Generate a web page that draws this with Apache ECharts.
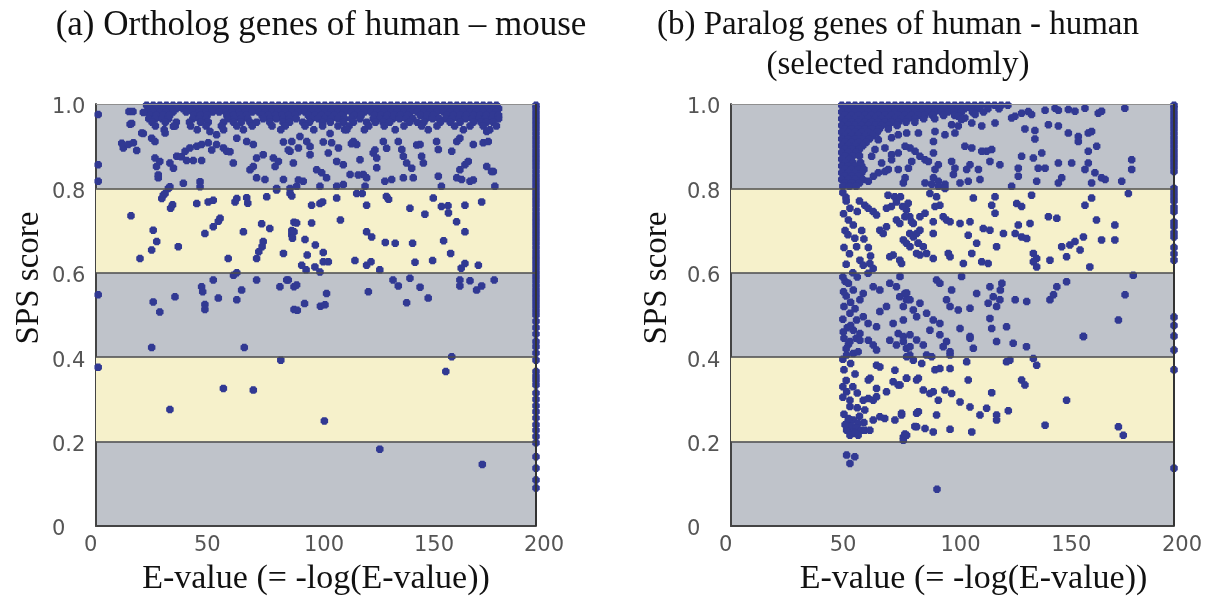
<!DOCTYPE html>
<html><head><meta charset="utf-8">
<script src="https://cdn.jsdelivr.net/npm/echarts@6.0.0/dist/echarts.min.js"></script>
<style>html,body{margin:0;padding:0;background:#fff}#c{width:1210px;height:599px}</style>
</head><body><div id="c"></div>
<script>
// ---------- tick labels / bands ----------
const xTickValues = [0, 50, 100, 150, 200];
const yTickValues = [0, 0.2, 0.4, 0.6, 0.8, 1.0];
const bandEdges = [0.2, 0.4, 0.6, 0.8];
const yellowBands = [[0.2, 0.4], [0.6, 0.8]];
const titleA = '(a) Ortholog genes of human \u2013 mouse';
const titleB = '(b) Paralog genes of human - human\n(selected randomly)';
const xName = 'E-value (= -log(E-value))';
const yName = 'SPS score';

// ---------- (a) ortholog: dense top rows [y, [x...]] ----------
const orthoDenseRows = [
 [0.997,[23,26,29,32,35,38,41,44,47,50,53,56,59,62,65,68,71,74,77,80,83,86,89,92,95,98,101,104,107,110,113,116,119,122,125,128,131,134,137,140,143,146,149,152,155,158,161,164,167,170,173,176,179,182]],
 [0.989,[24.5,27.5,30.5,33.5,36.5,39.5,42.5,45.5,48.5,51.5,54.5,57.5,60.5,63.5,66.5,69.5,72.5,75.5,78.5,81.5,84.5,87.5,90.5,93.5,96.5,99.5,102.5,105.5,108.5,111.5,114.5,117.5,120.5,123.5,126.5,129.5,132.5,135.5,138.5,141.5,144.5,147.5,150.5,153.5,156.5,159.5,162.5,165.5,168.5,171.5,174.5,177.5,180.5,183]],
 [0.981,[23,26,29,32,35,41,44,47,50,53,56,59,62,65,68,71,74,77,80,83,86,89,92,95,98,101,104,107,110,113,116,119,122,125,128,131,134,137,140,143,146,149,152,155,158,161,164,167,170,173,176,179,182]],
 [0.973,[24.5,27.5,30.5,33.5,44.5,47.5,50.5,59.5,62.5,65.5,68.5,75.5,78.5,81.5,84.5,87.5,90.5,96.5,99.5,102.5,105.5,108.5,111.5,117.5,120.5,126.5,129.5,132.5,135.5,138.5,141.5,147.5,150.5,153.5,159.5,162.5,165.5,168.5,171.5,174.5,177.5,180.5,183]],
 [0.965,[24,27,30,33,44,47,50,60,63,66,69,76,79,82,85,88,91,98,101,104,107,110,113,116,120,126,129,132,135,138,141,144,150,153,156,159,162,165,168,171,174,177,180,183]],
 [0.957,[25.5,31.5,36.5,42.5,47.5,51,58,62.5,66,70,73,79,85,88,94,97,103,106.5,112.5,117,123,127,130.5,133.5,142.5,146,149,156.5,161,165.5,171.5,175,177.5,180.5]],
 [0.948,[27,36,43,50,57,64,71,80,86,95,103,110,115,124,131,140,148,155,163,170,176,182]],
 [0.939,[31,46,58,67,84,99,113,122,136,151,167,179]]
];
// ---------- (a) scattered points [x, y] ----------
const orthoPoints = [
 [1,0.975],[1,0.856],[1,0.817],[15,0.982],[16.8,0.982],[21.5,0.98],[15.5,0.952],[16.2,0.954],[21.5,0.93],
 [12.4,0.896],[14.7,0.904],[17,0.908],[11.7,0.907],[18.5,0.89],[20.8,0.931],[26.8,0.911],[25.3,0.919],[31.4,0.931],[35.2,0.947],
 [26.8,0.872],[29,0.864],[27.5,0.852],[33.6,0.86],[36.7,0.876],[35.2,0.848],[38.8,0.875],[28.3,0.825],[28.3,0.832],[32.9,0.8],[33.6,0.804],
 [40.5,0.888],[42.7,0.896],[45.8,0.9],[48,0.904],[41.2,0.866],[44.2,0.866],[48,0.866],[39.7,0.812],[47.3,0.816],[47.3,0.804],
 [51,0.908],[54.8,0.904],[57.9,0.896],[59.4,0.888],[60.9,0.887],[52.6,0.891],[51.8,0.935],[54.8,0.927],
 [62.4,0.86],[64,0.919],[68.5,0.911],[71.5,0.904],[70,0.844],[71.5,0.852],[73,0.872],[76,0.88],[73,0.825],[76.8,0.821],
 [80.6,0.872],[82.9,0.864],[81.4,0.852],[82.1,0.8],[85.2,0.821],[88.2,0.888],[89.7,0.86],[89,0.911],[88.2,0.8],[85.2,0.91],[87.4,0.891],
 [92,0.896],[92.7,0.923],[95.8,0.911],[97.3,0.88],[94.2,0.817],[91.2,0.805],[92,0.82],[97.3,0.899],
 [100.3,0.844],[102.6,0.837],[104.8,0.825],[101.8,0.805],[105.6,0.884],[107.1,0.908],[110.2,0.896],[109.4,0.864],[112.4,0.856],[103.3,0.91],[106.4,0.93],
 [109.4,0.805],[112.4,0.809],[115.5,0.833],[114,0.939],[117,0.911],[118.5,0.904],[120,0.868],[121.5,0.833],[123,0.825],[122.3,0.805],[116.1,0.906],[119.2,0.832],
 [126,0.884],[127.6,0.872],[127.6,0.849],[130.6,0.911],[131.3,0.817],[134.4,0.821],[126.8,0.891],[132.1,0.895],
 [137.4,0.911],[139,0.892],[139.7,0.876],[139.7,0.825],[141.2,0.86],[143.5,0.848],[144.2,0.825],[145.8,0.903],
 [147.3,0.904],[148,0.876],[148.8,0.86],[154.8,0.911],[155.6,0.892],[155.6,0.829],[157,0.805],
 [161.7,0.888],[164,0.911],[165.4,0.919],[165.4,0.844],[167.7,0.856],[169.2,0.864],[164,0.825],[166.2,0.821],[170,0.817],[171.5,0.82],
 [171.5,0.904],[176,0.908],[178.3,0.911],[177.6,0.935],[177.6,0.852],[180.6,0.84],[181.3,0.805],[179.8,0.84],
 [15.9,0.735],[30.6,0.784],[29.9,0.776],[31.4,0.788],[34.8,0.761],[33.9,0.753],[45.8,0.764],[51,0.768],[53.3,0.772],[63.2,0.768],[64,0.776],
 [68.5,0.778],[69,0.765],[77.6,0.78],[82.1,0.796],[88.2,0.788],[26,0.701],[27.6,0.674],[25.3,0.654],[20,0.634],[37.4,0.662],
 [49.5,0.693],[53.3,0.709],[56.4,0.729],[55.6,0.722],[60.1,0.634],[67,0.697],[75.3,0.716],[79,0.705],[76,0.674],[75.5,0.662],[73,0.634],[74,0.65],
 [85.2,0.646],[89,0.69],[89,0.7],[90,0.72],[89,0.782],[98,0.76],[101.8,0.764],[103,0.768],[109.4,0.777],[118.5,0.788],[121,0.788],[123,0.76],
 [132,0.781],[133,0.774],[142.7,0.753],[149.5,0.739],[153.3,0.777],[157,0.757],[160,0.759],[160.2,0.742],[167.7,0.76],[175.3,0.768],
 [91.2,0.718],[98,0.718],[111.1,0.725],[90,0.697],[89.3,0.682],[95,0.679],[99.7,0.666],[103.3,0.648],[96,0.642],[93.5,0.618],[95.5,0.607],
 [99.5,0.614],[103.3,0.626],[105.6,0.626],[101.8,0.602],[117.7,0.629],[123,0.618],[125,0.626],[123,0.697],[125.3,0.685],[129,0.607],
 [131.5,0.672],[136,0.67],[143.9,0.67],[145,0.625],[153,0.629],[158,0.676],[161.2,0.646],[163.9,0.721],[167.7,0.697],[167.7,0.622],[166,0.611],[173.8,0.618],
 [1,0.548],[26,0.531],[29,0.507],[35.9,0.543],[48,0.567],[48.5,0.555],[49.5,0.525],[49.5,0.513],[53.3,0.583],[55.6,0.54],[64,0.536],[66.2,0.559],
 [64,0.6],[62.5,0.594],[73,0.583],[83.6,0.567],[86.7,0.583],[90,0.567],[90,0.513],[87.4,0.583],[91.2,0.571],[104.8,0.551],[94.8,0.527],
 [91.5,0.511],[102,0.521],[104.1,0.524],[123.8,0.555],[135,0.583],[137.4,0.569],[142.7,0.587],[147.3,0.566],[141.2,0.529],[151,0.54],
 [165.4,0.583],[165.4,0.569],[170,0.581],[173,0.559],[175.3,0.569],[181,0.583],
 [25.3,0.423],[1,0.376],[33.6,0.276],[57.9,0.326],[67.4,0.423],[71.5,0.322],[84,0.393],[161.7,0.401],[159,0.366],[103.8,0.249],[129,0.182],[175.6,0.146]
];
// ---------- (a) column at E-value 200 (y values) ----------
const orthoColumnX = 200;
const orthoColumnY = [0.997,0.99,0.98,0.97,0.96,0.95,0.94,0.93,0.92,0.91,0.9,0.89,0.88,0.87,0.86,0.85,0.84,0.83,0.82,0.81,0.8,0.79,0.78,0.77,0.76,0.75,0.74,0.73,0.72,0.71,0.7,0.69,0.68,0.67,0.66,0.65,0.64,0.63,0.62,0.61,0.6,0.59,0.58,0.57,0.56,0.55,0.54,0.53,0.52,0.51,0.5,
 0.485,0.47,0.455,0.437,0.425,0.41,0.393,0.366,0.355,0.345,0.334,0.315,0.3,0.285,0.271,0.256,0.24,0.227,0.212,0.197,0.164,0.137,0.109,0.09];

// ---------- (b) paralog: dense rows ----------
const paraDenseRows = [
 [0.997,[50,53,56,59,62,65,68,71,74,77,80,83,86,89,92,95,98,101,104,107,110,113,116,119,122,125]],
 [0.989,[51.5,54.5,57.5,60.5,63.5,66.5,69.5,72.5,75.5,78.5,81.5,84.5,87.5,90.5,93.5,96.5,99.5,102.5,105.5,108.5,111.5,116,121]],
 [0.981,[50,53,56,59,62,65,68,71,74,77,80,83,86,89,92,95,98,101,104,109,114]],
 [0.973,[51.5,54.5,57.5,60.5,63.5,66.5,69.5,72.5,75.5,78.5,81.5,84.5,87.5,91,96,101]],
 [0.965,[50,53,56,59,62,65,68,71,74,77,80,83,87,92]],
 [0.957,[51.5,54.5,57.5,60.5,63.5,66.5,69.5,72.5,75.5,79,83]],
 [0.949,[50,53,56,59,62,65,68,71,75]],
 [0.941,[51.5,54.5,57.5,60.5,63.5,67,71]],
 [0.933,[50,53,56,59,62,66]],
 [0.925,[51.5,54.5,57.5,60.5,64]],
 [0.917,[50,53,56,59,62.5]],
 [0.909,[51.5,54.5,57.5,61]],
 [0.901,[50,53,56,59.5]],
 [0.893,[51.5,54.5,58]],
 [0.885,[50,53,56.5]],
 [0.877,[51.5,55,58]],
 [0.869,[50,53.5]],
 [0.861,[51.5,55,58.5]],
 [0.853,[50,53,56,59]],
 [0.845,[51.5,54.5,57.5,60]],
 [0.837,[50,53,56,59]],
 [0.829,[51.5,54.5,57.5]],
 [0.821,[50,53,56,59.5]],
 [0.813,[51.5,54.5,58]],
 [0.805,[50.5,53.5,56.5]]
];
const paraPoints = [
 [128.2,0.971],[131.2,0.978],[134.2,0.982],[135.7,0.975],[141.8,0.985],[146.3,0.99],[147.8,0.985],[152.3,0.987],[155.3,0.983],[159.8,0.99],[165.8,0.978],[167.3,0.983],[177.8,0.99],
 [105.6,0.967],[108.7,0.955],[113.2,0.948],[119.2,0.955],[126.7,0.967],[132.7,0.941],[137.2,0.937],[137.2,0.917],[143.3,0.951],[147.8,0.948],[152.3,0.931],[156.8,0.923],[156.8,0.911],[162.8,0.935],[161.3,0.931],[161.3,0.888],[165.1,0.9],
 [180.9,0.868],[180.9,0.845],[176.4,0.817],[167.3,0.825],[168.9,0.821],[162.8,0.813],[159.8,0.845],[161.3,0.86],[153.8,0.86],[147.8,0.86],[141.8,0.848],[138.7,0.848],[140.3,0.884],[136.5,0.872],[131.2,0.876],[129.7,0.848],[129.7,0.829],[126.7,0.805],[138,0.817],[147.8,0.813],[149.3,0.825],[164.3,0.837],
 [121.4,0.856],[116.9,0.864],[115.4,0.888],[117.7,0.892],[113.2,0.888],[108.7,0.896],[105.6,0.9],[107.9,0.856],[106.4,0.845],[111.7,0.845],[112.4,0.821],[107.1,0.817],[103.4,0.813],[99.6,0.864],[101.1,0.848],[100.4,0.833],[93.6,0.856],[92.1,0.845],[91.4,0.825],[90.6,0.81],[93.6,0.817],[96.6,0.81],[87.6,0.813],[87.6,0.868],[89.1,0.864],[85.3,0.876],[83.1,0.888],[80.8,0.896],[91.4,0.884],[91.4,0.911],[92.1,0.935],[96.6,0.927],[101.1,0.931],[99.6,0.951],[102.6,0.948],[102.6,0.971],[104.1,0.963],[110.2,0.975],
 [75.5,0.845],[80.1,0.848],[78.6,0.825],[77.8,0.813],[71,0.845],[69.5,0.84],[66.5,0.837],[64.3,0.829],[62,0.817],[72.5,0.88],[75.5,0.884],[78.6,0.9],[69.5,0.896],[66.5,0.915],[72.5,0.92],[75.5,0.927],[79.3,0.931],[84.6,0.931],[72.5,0.868],[68,0.86],[81.6,0.864],[65,0.892],[63.5,0.876],[93.6,0.805],[96.6,0.8],
 [51.9,0.779],[53.7,0.753],[60.4,0.76],[61.9,0.753],[64.2,0.745],[65.7,0.737],[55.2,0.713],[55.9,0.682],[56.7,0.662],[58.2,0.63],[59.7,0.618],[62.7,0.622],[64.2,0.61],[61.9,0.599],[70.9,0.784],[73.9,0.78],[74.7,0.768],[72.4,0.757],[70.2,0.753],[67.2,0.701],[68.7,0.693],[70.2,0.709],[74.7,0.725],[76.2,0.717],[79.2,0.749],[80.7,0.733],[81.5,0.721],[77.8,0.678],[79.2,0.67],[80.7,0.693],[73.2,0.642],[71.7,0.638],[76.2,0.63],[77,0.622],[83.8,0.693],[84.5,0.67],[83.8,0.646],
 [50.5,0.79],[52,0.77],[50.8,0.74],[53,0.725],[51.5,0.7],[52.8,0.69],[51,0.66],[53.5,0.645],[52,0.62],[55,0.6],[57,0.59],[58,0.77],[57,0.745],[59,0.7],[60,0.68],[62,0.66],[63,0.64],
 [76.5,0.78],[77.5,0.757],[78.5,0.733],[80,0.765],[82.3,0.717],[85.3,0.733],[85.3,0.701],[87.6,0.741],[89.8,0.788],[92.8,0.78],[94.3,0.76],[92.1,0.757],[95.8,0.733],[97.3,0.725],[91.3,0.721],[82.3,0.685],[84.6,0.67],[80.8,0.662],[86.8,0.662],[88.3,0.646],[85.3,0.642],[91.3,0.634],[91.3,0.693],[98.9,0.721],[103.4,0.717],[107.9,0.721],[98.9,0.638],[98.1,0.646],[104.9,0.622],[107.1,0.689],[110.9,0.67],[108.7,0.646],[113.2,0.626],[116.1,0.622],[113.9,0.705],[116.9,0.701],[109.4,0.777],[119.2,0.78],[117.7,0.76],[119.2,0.741],[119.9,0.662],[123,0.693],[128.3,0.693],[129.7,0.713],[129,0.764],[131.2,0.757],[131.2,0.685],[133.5,0.681],[135,0.717],[135.7,0.784],[136.5,0.646],[138,0.634],[136.5,0.626],[138,0.614],[143.3,0.733],[147.1,0.729],[144,0.63],[149.3,0.662],[151.5,0.638],[153,0.666],[155.3,0.674],[157.6,0.654],[159.1,0.685],[159.8,0.76],[162.8,0.777],[162,0.614],[165,0.725],[167.3,0.678],[173.3,0.678],[173.3,0.713],[179.4,0.788],
 [55.2,0.559],[59.7,0.551],[58.2,0.536],[64.2,0.567],[67.2,0.559],[71.7,0.575],[74.7,0.567],[76.2,0.543],[78.5,0.551],[79.2,0.536],[70.2,0.52],[67.2,0.508],[53.7,0.504],[56.7,0.488],[59.7,0.496],[61.9,0.48],[65.7,0.472],[55.2,0.464],[58.2,0.456],[73.2,0.48],[77.8,0.488],[82.3,0.512],[83.8,0.496],[75.5,0.456],
 [51.5,0.58],[52,0.545],[51,0.52],[52.5,0.47],[51,0.445],[53,0.43],
 [50.5,0.59],[53,0.575],[50.8,0.555],[54,0.53],[56,0.515],[50.5,0.49],[54,0.475],[50.7,0.46],[56.5,0.445],[52,0.42],[50.5,0.395],[54,0.385],[51,0.37],[56,0.36],[52,0.345],[50.5,0.33],[55,0.33],[57,0.315],[50.5,0.305],[57,0.28],[51,0.265],[58,0.26],[60,0.245],
 [76.3,0.591],[79.3,0.552],[80.8,0.536],[77.8,0.52],[85.3,0.528],[88.3,0.504],[91.3,0.488],[89.8,0.464],[94.3,0.48],[92.8,0.583],[94.3,0.575],[99.6,0.559],[97.3,0.536],[98.9,0.52],[102.6,0.512],[107.9,0.516],[104.1,0.591],[110.9,0.551],[116.9,0.567],[118.4,0.543],[121.4,0.536],[119.9,0.52],[116.1,0.528],[122.3,0.575],[121.6,0.559],[128.3,0.536],[133.5,0.532],[116.9,0.492],[117.7,0.468],[124.4,0.472],[144,0.536],[145.6,0.548],[147.1,0.567],[151.5,0.579],[103.4,0.468],[107.9,0.449],[159.1,0.449],[174.9,0.488],[177.9,0.548],[181.6,0.594],
 [52.2,0.405],[55.2,0.409],[57.4,0.413],[53.7,0.437],[58.2,0.44],[62,0.44],[64.2,0.429],[65.7,0.417],[71.7,0.44],[74.7,0.429],[77.8,0.437],[79.2,0.421],[80.7,0.405],[65.7,0.381],[67.2,0.377],[74,0.369],[62,0.346],[62.8,0.35],[73.2,0.342],[75.5,0.334],[79.2,0.35],[83.8,0.346],[65.7,0.326],[70.2,0.318],[52.2,0.318],[53.7,0.298],[53.7,0.283],[59.7,0.298],[62,0.302],[64.2,0.298],[65.7,0.306],[60.4,0.275],[64.2,0.251],[67.2,0.259],[69.4,0.255],[74,0.251],[77,0.267],[83.8,0.267],[83,0.236],[77.8,0.211],[78.5,0.218],
 [52.9,0.247],[55.2,0.251],[57.4,0.243],[54.4,0.236],[56.7,0.232],[52.2,0.227],[55.2,0.223],[58.9,0.227],[53.7,0.215],[57.4,0.215],[60.4,0.227],[62.7,0.227],[51.5,0.24],[53,0.255],[56,0.22],
 [52.2,0.168],[55.9,0.164],[53.7,0.148],
 [77.8,0.449],[80.8,0.453],[83.8,0.441],[86.8,0.429],[80.8,0.425],[94.3,0.453],[97.3,0.437],[95.8,0.425],[98.9,0.413],[98.9,0.405],[107.9,0.445],[109.4,0.421],[119.9,0.437],[127.4,0.433],[133.4,0.425],[159.1,0.449],[79.3,0.401],[82.3,0.393],[86.1,0.385],[88.3,0.405],[90.6,0.401],[92.1,0.37],[94.3,0.373],[98.9,0.373],[106.4,0.389],[124.4,0.389],[125.9,0.393],[136.5,0.397],[138,0.381],[84.6,0.35],[79.3,0.35],[76.3,0.334],[107.1,0.346],[131.2,0.346],[132.7,0.334],[86.8,0.322],[89.8,0.314],[91.3,0.318],[93.6,0.298],[96.6,0.322],[99.6,0.314],[117.7,0.316],[151.5,0.298],[103.4,0.294],[107.9,0.282],[112.4,0.263],[115.4,0.279],[119.9,0.263],[119.9,0.251],[125.2,0.273],[84.6,0.271],[92.8,0.263],[77,0.263],[83.8,0.235],[87.6,0.231],[91.3,0.223],[98.9,0.229],[108.7,0.223],[77.8,0.203],[79.3,0.215],[141.8,0.239],[174.9,0.235],[177.1,0.215],[93,0.087]
];
const paraColumnX = 200;
const paraColumnY = [0.997,0.99,0.98,0.97,0.96,0.95,0.94,0.93,0.92,0.91,0.9,0.89,0.88,0.87,0.86,0.85,0.84,0.8,0.79,0.78,0.77,0.755,0.745,0.72,0.71,0.695,0.685,0.66,0.645,0.63,0.495,0.475,0.45,0.417,0.37,0.137];

// ---------- build ----------
function rowsToPoints(rows){ const out=[]; rows.forEach(r=>r[1].forEach(x=>out.push([x,r[0]]))); return out; }
function colToPoints(x, ys){ return ys.map(y=>[x,y]); }
const orthoData = rowsToPoints(orthoDenseRows).concat(orthoPoints, colToPoints(orthoColumnX, orthoColumnY));
const paraData = rowsToPoints(paraDenseRows).concat(paraPoints, colToPoints(paraColumnX, paraColumnY));

const BLUE = '#313993', GREY = '#bfc3ca', YELLOW = '#f6f1cb';
const sym = 'path://M-1.9,-3.5H1.9L2.4,-2.4L3.5,-1.9V1.9L2.4,2.4L1.9,3.5H-1.9L-2.4,2.4L-3.5,1.9V-1.9L-2.4,-2.4Z';
const tickFont = 'DejaVu Sans', serif = 'Liberation Serif';

function xAxisOf(i, namePad){
  return {type:'value', gridIndex:i, min:0, max:200, interval:50,
    name:xName, nameLocation:'middle', nameGap:36,
    nameTextStyle:{fontFamily:serif, fontSize:34, color:'#111', padding:namePad},
    axisLine:{show:true, onZero:false, lineStyle:{color:'#444', width:2}},
    axisTick:{show:false}, splitLine:{show:false},
    axisLabel:{margin:9, formatter:v=>'{l|'+v+'}', rich:{l:{width:24, align:'left', fontFamily:tickFont, fontSize:21, color:'#555'}}}
  };
}
function yAxisOf(i, gap){
  return {type:'value', gridIndex:i, min:0, max:1, interval:0.2,
    name:yName, nameLocation:'middle', nameRotate:90, nameGap:gap,
    nameTextStyle:{fontFamily:serif, fontSize:33, color:'#111', padding:[0,0,0,74]},
    axisLine:{show:true, onZero:false, lineStyle:{color:'#444', width:2}},
    axisTick:{show:false}, splitLine:{show:false},
    axisLabel:{margin:44, align:'left', verticalAlign:'top', lineHeight:8, fontFamily:tickFont, fontSize:21, color:'#555',
      formatter:v=> v===0 ? '0' : v.toFixed(1)}
  };
}
function panelSeries(i, data){
  return [
    {type:'line', xAxisIndex:i, yAxisIndex:i, data:[], z:1, silent:true,
     markArea:{silent:true, itemStyle:{color:YELLOW}, data:yellowBands.map(b=>[{yAxis:b[0]},{yAxis:b[1]}])}},
    {type:'line', xAxisIndex:i, yAxisIndex:i, data:[], z:2, silent:true,
     markLine:{silent:true, symbol:'none', label:{show:false}, animation:false,
       lineStyle:{color:'#4d4d4d', width:1.5, type:'solid'},
       data: bandEdges.map(v=>({yAxis:v})).concat([
         {yAxis:1, lineStyle:{color:'#8f8f8f', width:1.2, type:'solid'}},
         {xAxis:200, lineStyle:{color:'#333', width:2, type:'solid'}}])}},
    {type:'scatter', xAxisIndex:i, yAxisIndex:i, data:data, z:3, silent:true, clip:false,
     symbol:sym, symbolSize:7.5, itemStyle:{color:BLUE, opacity:1}}
  ];
}

const chart = echarts.init(document.getElementById('c'), null, {renderer:'canvas'});
chart.setOption({
  animation:false,
  backgroundColor:'#fff',
  title:[
    {text:titleA, left:316, top:3, textAlign:'center', textStyle:{fontFamily:serif, fontSize:35, fontWeight:'normal', color:'#111'}},
    {text:titleB, left:893, top:0, textAlign:'center', textStyle:{fontFamily:serif, fontSize:33, fontWeight:'normal', color:'#111', lineHeight:40}}
  ],
  grid:[
    {left:96, top:104, width:440, height:422, show:true, backgroundColor:GREY, borderWidth:0, containLabel:false, outerBoundsMode:'none'},
    {left:731, top:104, width:443, height:422, show:true, backgroundColor:GREY, borderWidth:0, containLabel:false, outerBoundsMode:'none'}
  ],
  xAxis:[xAxisOf(0, [0,0,0,0]), xAxisOf(1, [0,0,0,42])],
  yAxis:[yAxisOf(0, 50), yAxisOf(1, 57)],
  series: panelSeries(0, orthoData).concat(panelSeries(1, paraData))
});
</script></body></html>
